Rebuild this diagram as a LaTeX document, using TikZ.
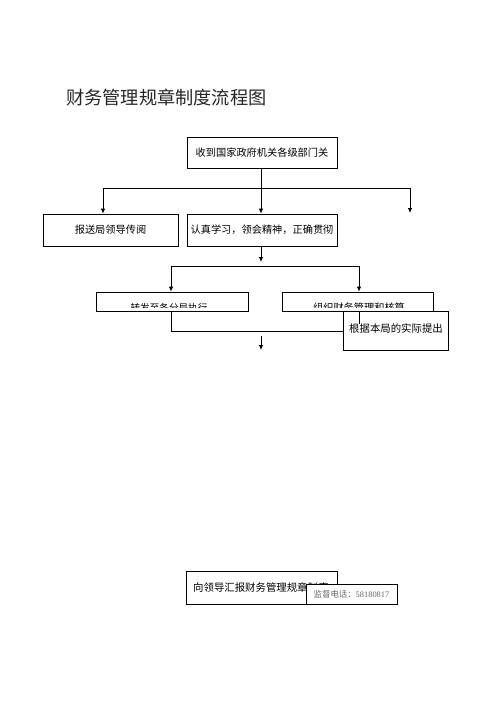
\documentclass[tikz,border=0pt]{standalone}
\usepackage{fontspec}
\newfontfamily\cjk{Noto Sans CJK SC}
\newfontfamily\serifnum{Liberation Serif}
\usetikzlibrary{arrows.meta}
\begin{document}
\begin{tikzpicture}[x=1pt,y=-1pt,
  box/.style={draw=black,line width=0.8pt,fill=white,inner sep=0pt,font=\cjk\fontsize{10.2}{12}\selectfont},
  conn/.style={line width=0.8pt},
  arr/.style={line width=0.8pt,-{Latex[length=5pt,width=4.5pt]}}]
\useasboundingbox (0,0) rectangle (496,702);
\fill[white] (0,0) rectangle (496,702);
% title
\node[anchor=west,inner sep=0pt,font=\cjk\fontsize{18.2}{20}\selectfont,text=black!85] (title) at (66,97) {财务管理规章制度流程图};
% boxes
\node[box,minimum width=150pt,minimum height=31pt] (b1) at (262,152.5) {收到国家政府机关各级部门关};
\node[box,minimum width=135pt,minimum height=32pt] (b2) at (110.5,230) {报送局领导传阅};
\node[box,minimum width=150pt,minimum height=32pt] (b3) at (262,230) {认真学习，领会精神，正确贯彻};
\node[box,minimum width=152pt,minimum height=19pt] (b4) at (172,301.5) {};
\node[box,minimum width=151pt,minimum height=19pt] (b5) at (358,301.5) {};
\begin{scope}
\clip (97,293) rectangle (247,307.5);
\node[inner sep=0pt,font=\cjk\fontsize{9.6}{11}\selectfont] (t4) at (169,308) {转发至各分局执行};
\end{scope}
\begin{scope}
\clip (284,293) rectangle (432,307.5);
\node[inner sep=0pt,font=\cjk\fontsize{10.2}{11}\selectfont] (t5) at (359,308) {组织财务管理和核算};
\end{scope}
% coordinates
\coordinate (hL) at (103,188);
\coordinate (hM) at (261,188);
\coordinate (hR) at (410,188);
\coordinate (rEnd) at (410,213);
\coordinate (aTop) at (261,247);
\coordinate (aEnd) at (261,262);
\coordinate (gL) at (171,266);
\coordinate (gR) at (359,266);
\coordinate (jL) at (171,331);
\coordinate (jR) at (359,331);
\coordinate (dTop) at (261,336);
\coordinate (dEnd) at (261,350);
% connectors top
\draw[conn] (b1.south -| hM) -- (hM);
\draw[conn] (hL) -- (hR);
\draw[arr] (hL) -- (b2.north -| hL);
\draw[arr] (hM) -- (b3.north -| hM);
\draw[arr] (hR) -- (rEnd);
\draw[arr] (b3.south -| aTop) -- (aEnd);
\draw[conn] (gL) -- (gR);
\draw[arr] (gL) -- (b4.north -| gL);
\draw[arr] (gR) -- (b5.north -| gR);
% box6
\node[box,minimum width=105pt,minimum height=39pt,font=\cjk\fontsize{10.4}{12}\selectfont] (b6) at (395.5,330.5) {};
\node[inner sep=0pt,font=\cjk\fontsize{10.4}{12}\selectfont] (t6) at (396,329) {根据本局的实际提出};
\draw[conn] (b4.south -| jL) -- (jL) -- (b6.west |- jL);
\draw[conn] (b5.south -| jR) -- (t6.north -| jR);
\draw[arr] (dTop) -- (dEnd);
% bottom
\node[box,minimum width=151pt,minimum height=33pt] (b7) at (261.5,587.5) {};
\node[anchor=west,inner sep=0pt,font=\cjk\fontsize{10.4}{12}\selectfont] (t7) at (193,587.5) {向领导汇报财务管理规章制度};
\node[box,minimum width=91pt,minimum height=20pt,font=\cjk\fontsize{8.4}{10}\selectfont,text=black!60] (b8) at (351.5,594) {监督电话：{\serifnum 58180817}};
\end{tikzpicture}
\end{document}
